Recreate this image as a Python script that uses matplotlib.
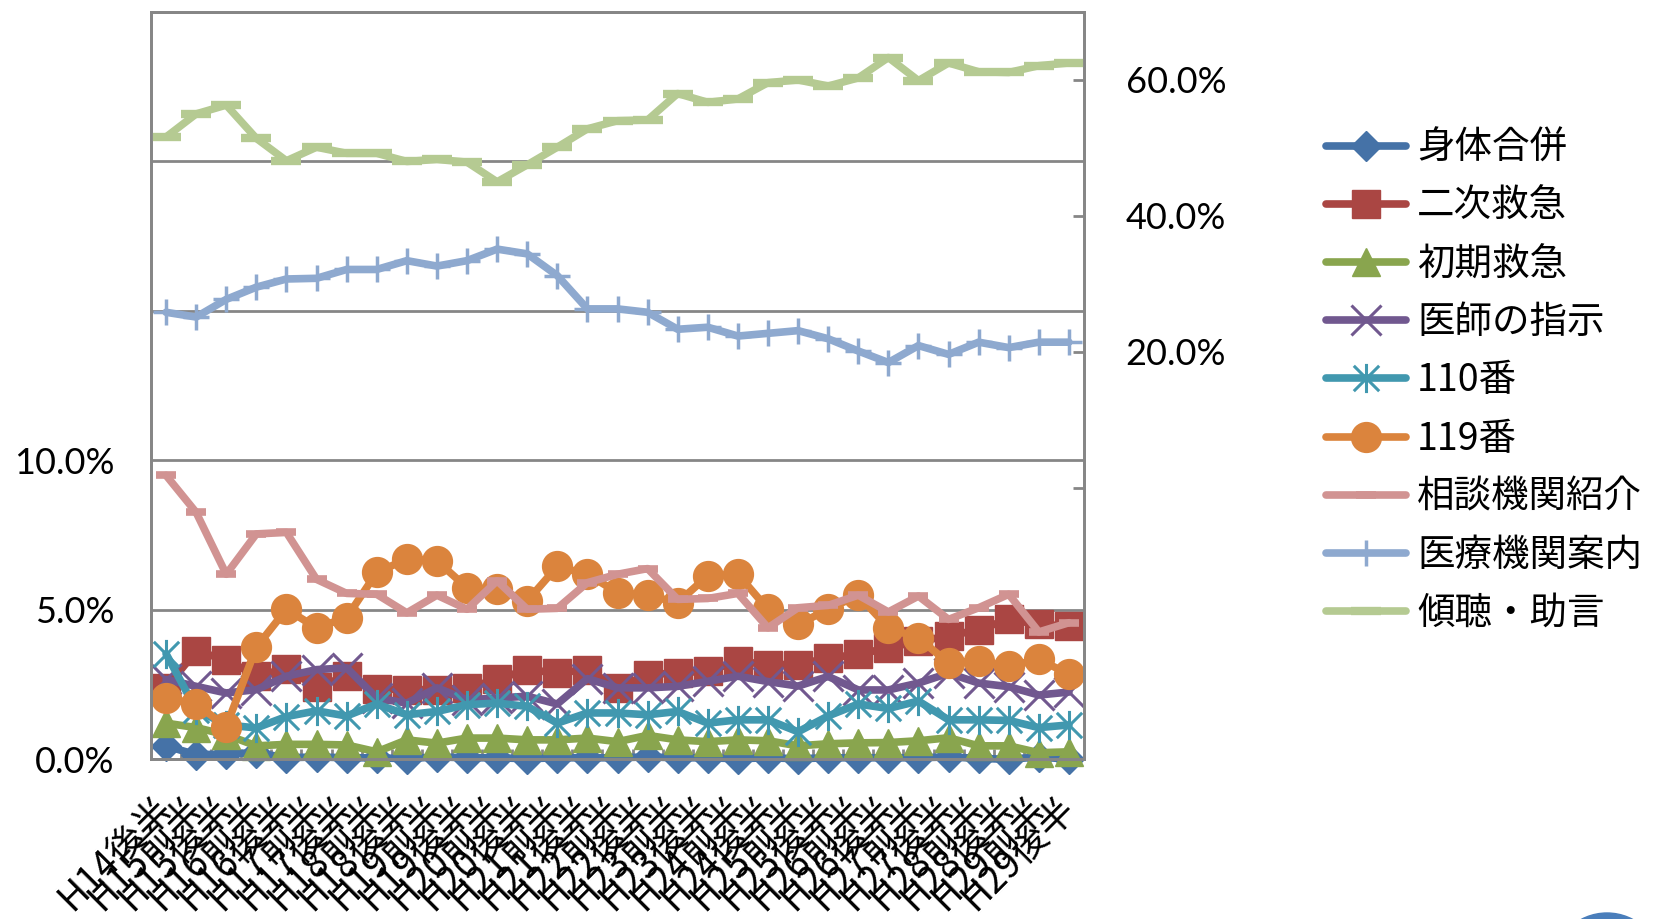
import matplotlib
matplotlib.use("Agg")
import numpy as np
import matplotlib.pyplot as plt
from matplotlib.path import Path
from matplotlib.patches import Ellipse
from matplotlib.ticker import FixedLocator, FuncFormatter

plt.rcParams['font.family'] = ['Noto Sans CJK JP', 'DejaVu Sans']

periods = ["H14後半", "H15前半", "H15後半", "H16前半", "H16後半", "H17前半", "H17後半",
           "H18前半", "H18後半", "H19前半", "H19後半", "H20前半", "H20後半", "H21前半",
           "H21後半", "H22前半", "H22後半", "H23前半", "H23後半", "H24前半", "H24後半",
           "H25前半", "H25後半", "H26前半", "H26後半", "H27前半", "H27後半", "H28前半",
           "H28後半", "H29前半", "H29後半"]

# left axis series (%)
shintai = [0.45, 0.15, 0.18, 0.22, 0.05, 0.08, 0.05, 0.05, 0.02, 0.08, 0.05, 0.05, 0.02, 0.05, 0.05,
           0.05, 0.08, 0.05, 0.05, 0.02, 0.05, 0.02, 0.05, 0.05, 0.05, 0.05, 0.08, 0.03, 0.0, 0.08, 0.0]
niji = [2.39, 3.62, 3.33, 2.80, 3.02, 2.43, 2.77, 2.36, 2.33, 2.33, 2.39, 2.67, 3.00, 2.89, 3.00,
        2.39, 2.83, 2.89, 2.95, 3.28, 3.17, 3.17, 3.39, 3.51, 3.73, 3.95, 4.12, 4.34, 4.68, 4.51, 4.46]
shoki = [1.21, 1.06, 0.82, 0.45, 0.50, 0.50, 0.48, 0.25, 0.65, 0.54, 0.71, 0.71, 0.65, 0.65, 0.71,
         0.59, 0.80, 0.65, 0.59, 0.65, 0.62, 0.45, 0.52, 0.55, 0.56, 0.62, 0.72, 0.45, 0.45, 0.22, 0.25]
ishi = [2.67, 2.44, 2.22, 2.33, 2.78, 3.00, 3.06, 2.05, 1.88, 2.39, 1.99, 2.05, 2.11, 1.85, 2.70,
        2.39, 2.39, 2.44, 2.61, 2.78, 2.60, 2.45, 2.77, 2.32, 2.32, 2.55, 2.88, 2.55, 2.43, 2.15, 2.25]
n110 = [3.53, 1.66, 1.15, 1.05, 1.43, 1.62, 1.45, 1.85, 1.49, 1.60, 1.83, 1.88, 1.77, 1.21, 1.55,
        1.55, 1.49, 1.60, 1.21, 1.32, 1.32, 0.92, 1.45, 1.85, 1.70, 1.95, 1.32, 1.32, 1.30, 1.06, 1.15]
n119 = [2.05, 1.85, 1.09, 3.75, 5.02, 4.40, 4.74, 6.25, 6.70, 6.64, 5.74, 5.69, 5.30, 6.45, 6.19,
        5.58, 5.49, 5.24, 6.14, 6.19, 5.02, 4.51, 5.02, 5.49, 4.40, 4.05, 3.23, 3.28, 3.11, 3.34, 2.85]
soudan = [9.50, 8.26, 6.19, 7.54, 7.59, 6.02, 5.55, 5.52, 4.90, 5.49, 5.02, 5.97, 5.02, 5.05, 5.91,
          6.19, 6.38, 5.35, 5.38, 5.55, 4.40, 5.07, 5.15, 5.49, 4.93, 5.46, 4.68, 5.07, 5.52, 4.26, 4.57]
# right axis series (%)
iryo = [25.8, 25.1, 27.7, 29.5, 30.7, 30.8, 32.1, 32.1, 33.4, 32.6, 33.4, 35.1, 34.4, 31.2, 26.3,
        26.3, 25.8, 23.3, 23.6, 22.3, 22.7, 23.1, 21.9, 20.1, 18.4, 20.9, 19.6, 21.4, 20.6, 21.4, 21.4]
keicho = [51.6, 55.0, 56.3, 51.4, 48.1, 50.1, 49.2, 49.2, 48.0, 48.3, 47.9, 45.0, 47.5, 50.1, 52.8,
          54.0, 54.1, 58.0, 56.7, 57.2, 59.6, 60.0, 59.1, 60.3, 63.3, 59.9, 62.5, 61.2, 61.1, 62.1, 62.5]

left_ticks = [0, 5, 10, 15, 20, 25]
right_ticks = [0, 20, 40, 60]

W, H = 1654, 919
fig = plt.figure(figsize=(W / 100, H / 100), dpi=100)
ax = fig.add_axes([151 / W, 1 - 759.3 / H, 933 / W, 747.3 / H])
ax2 = ax.twinx()

GRAY = '#868686'
x = np.arange(len(periods))

star = Path([(-1, -1), (1, 1), (-1, 1), (1, -1), (0, -1.15), (0, 1.15)],
            [Path.MOVETO, Path.LINETO, Path.MOVETO, Path.LINETO, Path.MOVETO, Path.LINETO])

common = dict(lw=5.5, solid_capstyle='round', solid_joinstyle='round', clip_on=False)
h = []
h += ax.plot(x, shintai, color='#4572A7', marker='D', ms=15.5, mec='#4572A7', label='身体合併', **common)
h += ax.plot(x, niji, color='#AA4643', marker='s', ms=20, mec='#AA4643', label='二次救急', **common)
h += ax.plot(x, shoki, color='#89A54E', marker='^', ms=20, mec='#89A54E', label='初期救急', **common)
h += ax.plot(x, ishi, color='#71588F', marker='x', ms=21, mew=2.2, mec='#71588F', label='医師の指示', **common)
h += ax.plot(x, n110, color='#4198AF', marker=star, ms=21, mew=2.2, mec='#4198AF', mfc='none', label='110番', **common)
h += ax.plot(x, n119, color='#DB843D', marker='o', ms=21.5, mec='#DB843D', label='119番', **common)
h += ax.plot(x, soudan, color='#D19392', marker='_', ms=15, mew=5.5, mec='#D19392', label='相談機関紹介', **common)
h += ax2.plot(x, iryo, color='#8EA9CF', marker='+', ms=19, mew=2.5, mec='#8EA9CF', label='医療機関案内', **common)
h += ax2.plot(x, keicho, color='#B5CA92', marker='_', ms=21, mew=6, mec='#B5CA92', label='傾聴・助言', **common)

# left axis
ax.set_ylim(0, 25)
ax.yaxis.set_major_locator(FixedLocator(left_ticks))
ax.yaxis.set_major_formatter(FuncFormatter(lambda v, p: f'{v:.1f}%' if v <= 10 else ''))
ax.tick_params(axis='y', length=0, pad=26.5, labelsize=26, labelfontfamily='Lato')
ax.set_axisbelow(True)
ax.grid(axis='y', color=GRAY, lw=2)

# right axis
ax2.set_ylim(-40, 70)
ax2.yaxis.set_major_locator(FixedLocator(right_ticks))
ax2.yaxis.set_major_formatter(FuncFormatter(lambda v, p: f'{v:.1f}%' if v > 0 else ''))
ax2.tick_params(axis='y', direction='in', length=8, width=2, color=GRAY, pad=30,
                labelsize=26, labelfontfamily='Lato')

# x axis
ax.set_xlim(-0.5, len(periods) - 0.5)
ax.set_xticks(x)
ax.set_xticklabels(periods, rotation=45, ha='right', va='center', rotation_mode='anchor')
ax.set_xticks(x[:-1] + 0.5, minor=True)
ax.tick_params(axis='x', which='major', length=0, pad=31, labelsize=27)
ax.tick_params(axis='x', which='minor', direction='in', length=7, width=2, color=GRAY)

for a in (ax, ax2):
    for s in a.spines.values():
        s.set_color(GRAY)
        s.set_linewidth(2)

fig.legend(handles=h, loc='upper left', bbox_to_anchor=(1326 / W, 1 - 129 / H),
           frameon=False, fontsize=27, handlelength=2.13, handletextpad=0.3,
           labelspacing=0.51, borderpad=0, borderaxespad=0, numpoints=1)

fig.patches.append(Ellipse((1607 / W, 1 - 968 / H), 110 / W, 110 / H,
                           transform=fig.transFigure, color='#4A7EBB', zorder=0))

fig.savefig('out.png', dpi=100, facecolor='white')
